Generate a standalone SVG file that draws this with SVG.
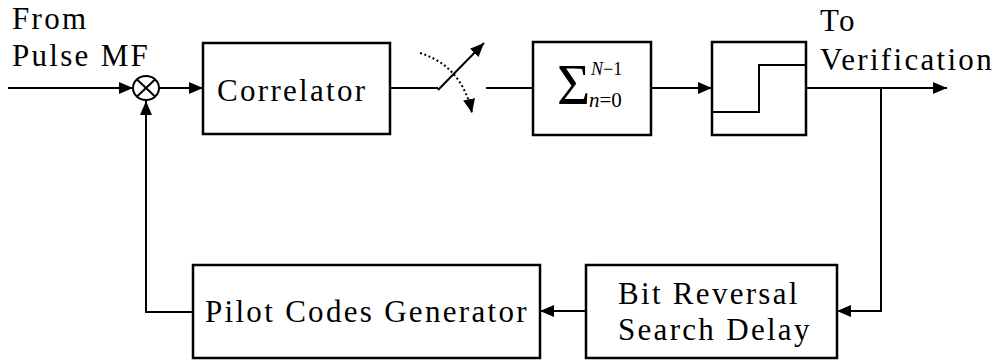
<svg xmlns="http://www.w3.org/2000/svg" width="1002" height="361" viewBox="0 0 1002 361">
  <style>
    .box { fill: #fff; stroke: #000; stroke-width: 2.5; }
    .wire { fill: none; stroke: #000; stroke-width: 2; }
    .lbl { font-size: 31px; letter-spacing: 2.3px; fill: #000; }
    .math { fill: #000; }
  </style>
  <defs>
    <marker id="arrow" viewBox="0 0 14 12" refX="14" refY="6" markerWidth="14" markerHeight="12" markerUnits="userSpaceOnUse" orient="auto">
      <path d="M0,0 L14,6 L0,12 Z" fill="#000"/>
    </marker>
  </defs>

  <!-- connectors -->
  <g id="connectors">
    <line class="wire" x1="8" y1="88" x2="133" y2="88" marker-end="url(#arrow)"/>
    <line class="wire" x1="159" y1="88" x2="203" y2="88" marker-end="url(#arrow)"/>
    <line class="wire" x1="390" y1="88" x2="438" y2="88"/>
    <line class="wire" x1="486" y1="88" x2="533" y2="88"/>
    <line class="wire" x1="651" y1="88" x2="712" y2="88" marker-end="url(#arrow)"/>
    <line class="wire" x1="806" y1="88" x2="947" y2="88" marker-end="url(#arrow)"/>
    <polyline class="wire" points="881,88 881,311 837,311" marker-end="url(#arrow)"/>
    <line class="wire" x1="586" y1="311" x2="540" y2="311" marker-end="url(#arrow)"/>
    <polyline class="wire" points="193,312 146,312 146,101" marker-end="url(#arrow)"/>
  </g>

  <g font-family="Times New Roman, Liberation Serif, DejaVu Serif, serif">
  <!-- multiplier -->
  <g id="mixer">
    <ellipse cx="146" cy="88" rx="13" ry="12" fill="#fff" stroke="#000" stroke-width="2"/>
    <line class="wire" x1="137" y1="79.5" x2="155" y2="96.5"/>
    <line class="wire" x1="155" y1="79.5" x2="137" y2="96.5"/>
  </g>

  <!-- correlator -->
  <g id="correlator">
    <rect class="box" x="203" y="43" width="187" height="91"/>
    <text class="lbl" x="217" y="101">Correlator</text>
  </g>

  <!-- switch -->
  <g id="switch">
    <line class="wire" x1="438" y1="90" x2="484" y2="43" marker-end="url(#arrow)"/>
    <path class="wire" d="M420,53 Q462,66 472,113" stroke-dasharray="2 2.5" marker-end="url(#arrow)"/>
  </g>

  <!-- summation -->
  <g id="summation">
    <rect class="box" x="533" y="42" width="118" height="93"/>
    <text class="math" x="557" y="104" font-size="57">Σ</text>
    <text class="math" x="591" y="75" font-size="18"><tspan font-style="italic">N</tspan>−1</text>
    <text class="math" x="589" y="107" font-size="21"><tspan font-style="italic">n</tspan>=0</text>
  </g>

  <!-- threshold -->
  <g id="threshold">
    <rect class="box" x="712" y="42" width="94" height="93"/>
    <polyline class="wire" points="712,112 759,112 759,65 806,65"/>
  </g>

  <!-- bit reversal search delay -->
  <g id="search-delay">
    <rect class="box" x="586" y="265" width="251" height="93"/>
    <text class="lbl" x="618" y="304">Bit Reversal</text>
    <text class="lbl" x="618" y="340">Search Delay</text>
  </g>

  <!-- pilot codes generator -->
  <g id="pilot-gen">
    <rect class="box" x="193" y="265" width="347" height="93"/>
    <text class="lbl" x="205" y="322">Pilot Codes Generator</text>
  </g>

  <!-- port labels -->
  <g id="input-label">
    <text class="lbl" x="12" y="29">From</text>
    <text class="lbl" x="12" y="66">Pulse MF</text>
  </g>
  <g id="output-label">
    <text class="lbl" x="820" y="31">To</text>
    <text class="lbl" x="820" y="70">Verification</text>
  </g>
  </g>
</svg>
